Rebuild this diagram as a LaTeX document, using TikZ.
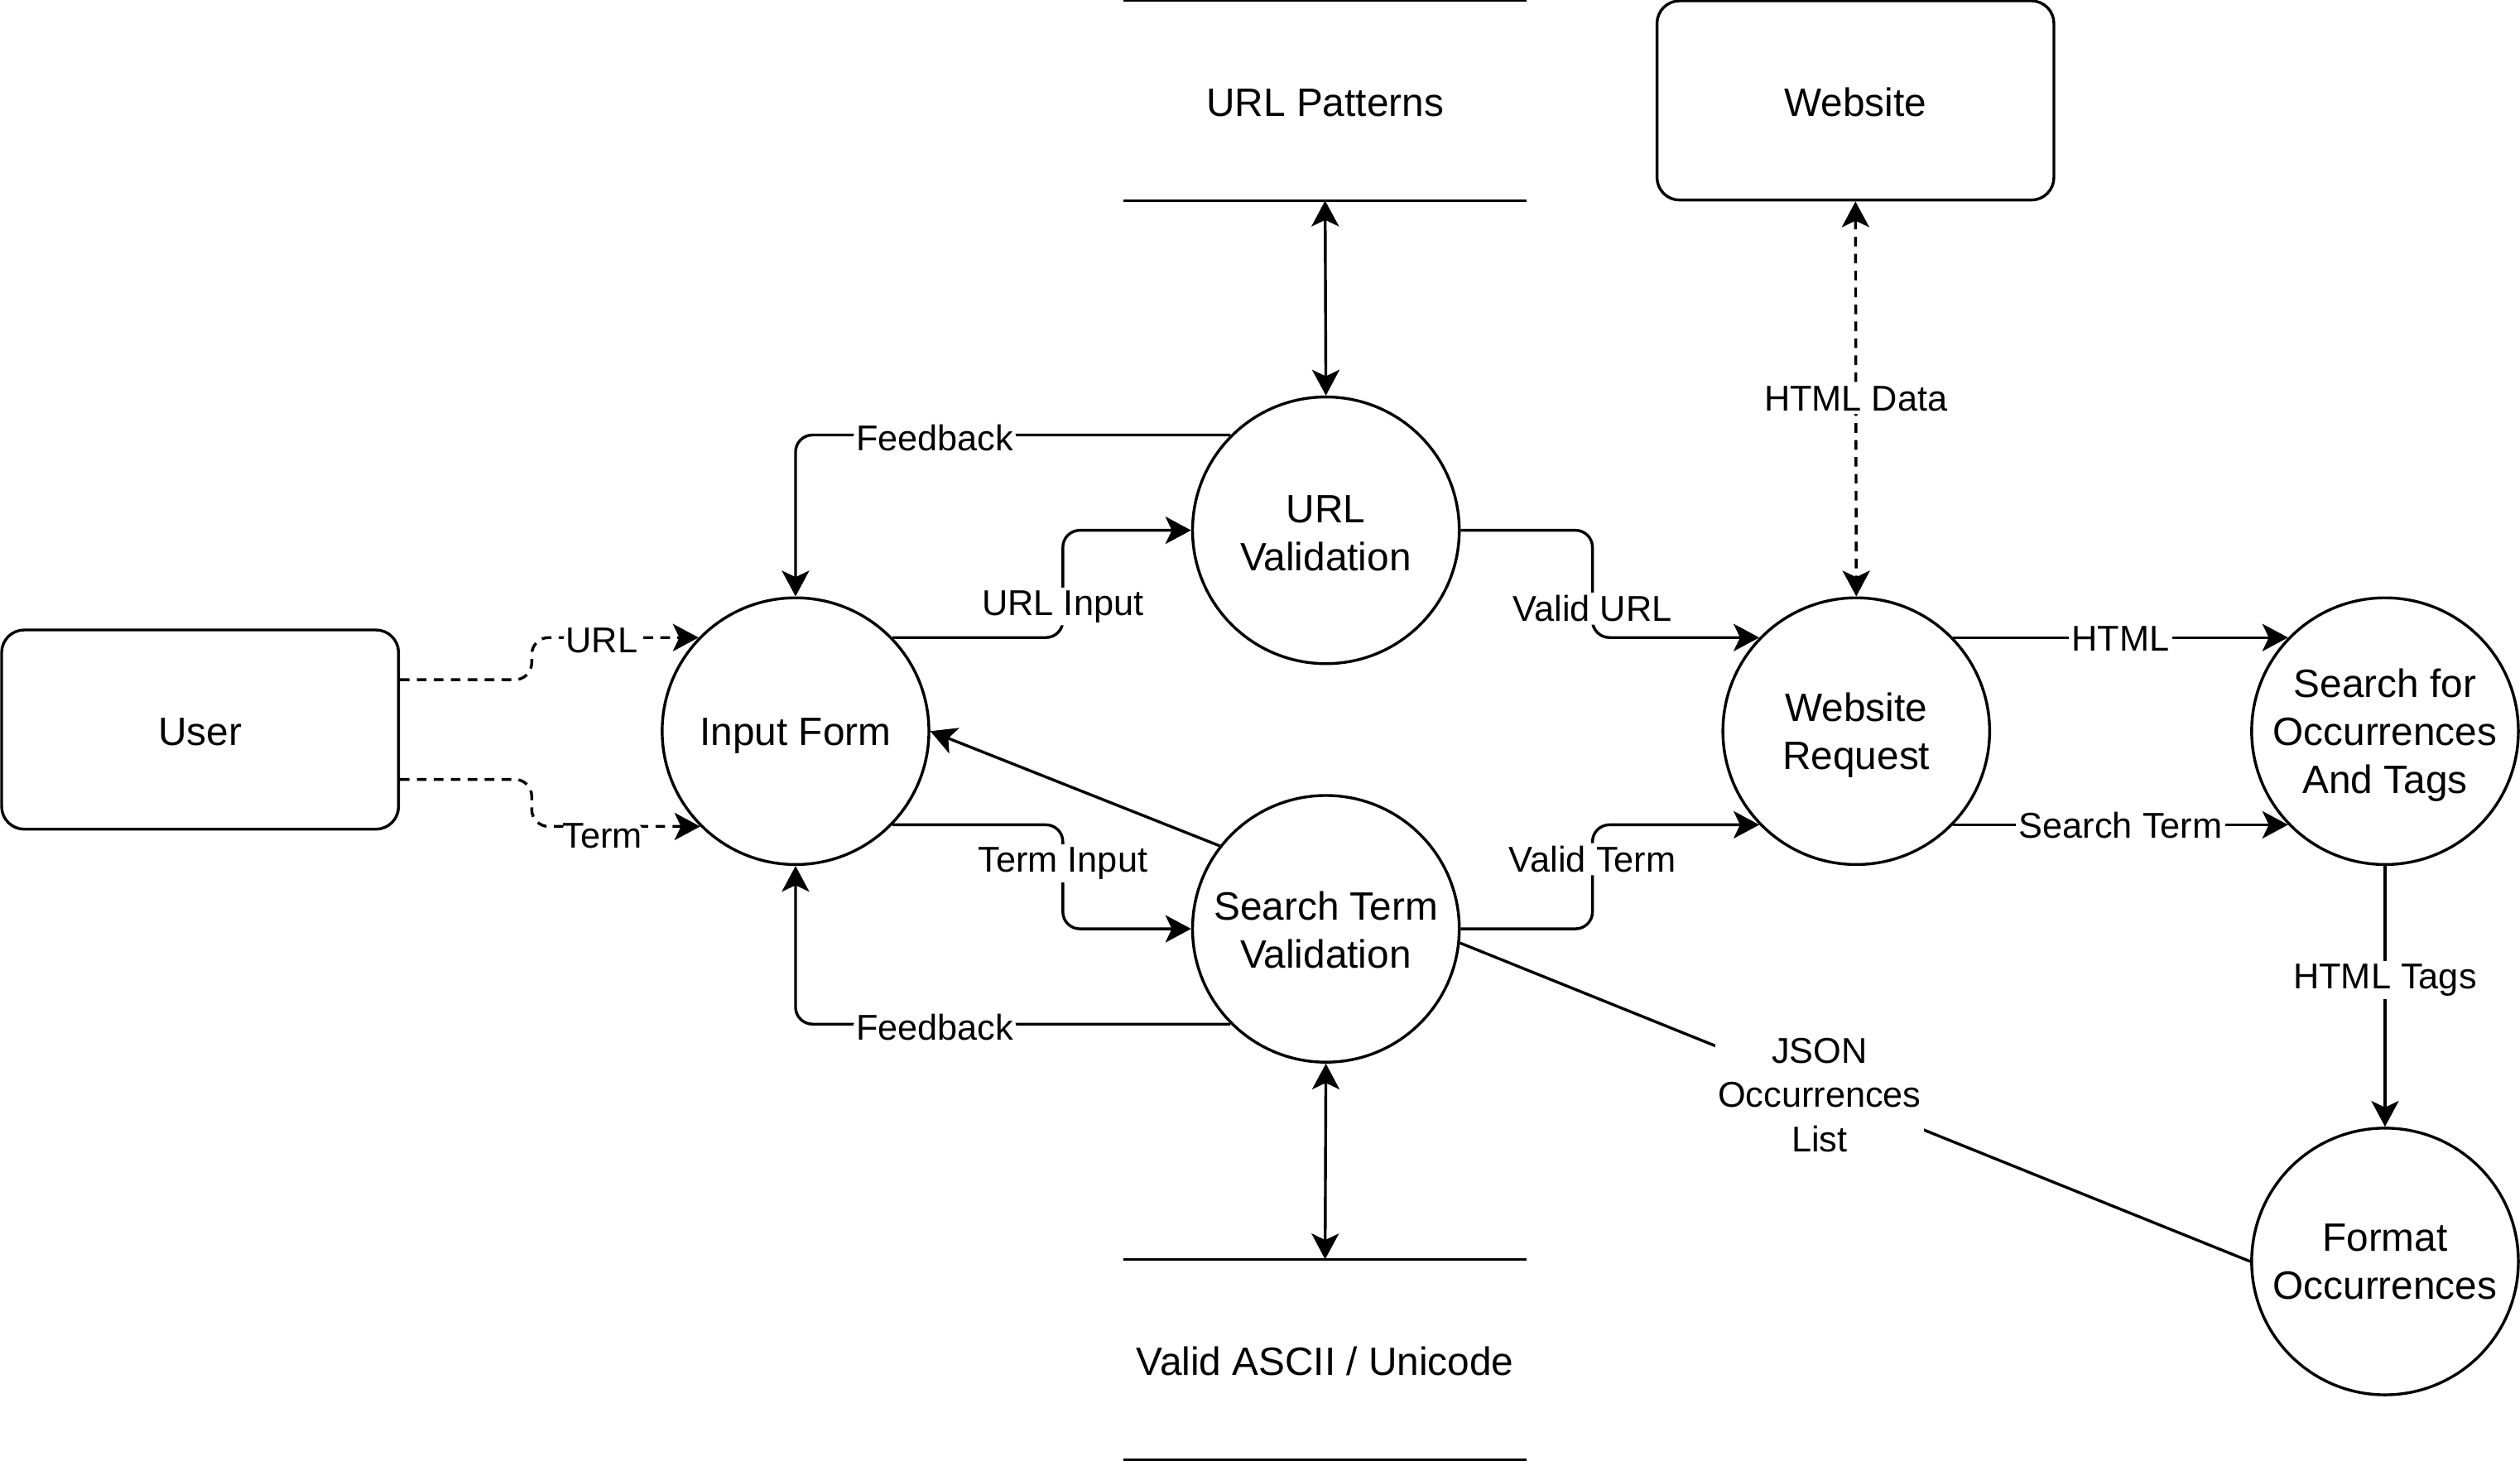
\documentclass[tikz,border=0pt]{standalone}
\usepackage{fontspec}
\setmainfont{Liberation Sans}
\usepackage{tikz}
\usetikzlibrary{arrows.meta}

\begin{document}
\begin{tikzpicture}[x=0.02cm, y=-0.02cm, line width=1pt,
    lowtext/.style={execute at begin node={\rule{0pt}{#1}}},
    proc/.style={draw, circle, minimum size=3.32cm, inner sep=0pt, align=center,
      font=\fontsize{14}{17}\selectfont, lowtext=13.2pt},
    ext/.style={draw, rounded corners=8pt, minimum width=4.94cm, minimum height=2.48cm,
      font=\fontsize{14}{17}\selectfont, lowtext=11.6pt},
    store/.style={minimum width=4.98cm, minimum height=2.46cm,
      font=\fontsize{14}{17}\selectfont, lowtext=11.6pt},
    flow/.style={-{Stealth[length=0.32cm, width=0.34cm, inset=0.08cm]}},
    both/.style={{Stealth[length=0.32cm, width=0.34cm, inset=0.08cm]}-{Stealth[length=0.32cm, width=0.34cm, inset=0.08cm]}},
    weblink/.style={dash pattern=on 3.4pt off 2.6pt},
    lbl/.style={fill=white, inner sep=1pt, align=center, yshift=-0.04cm,
      font=\fontsize{12.7}{15.6}\selectfont}]
  \useasboundingbox (0,0) rectangle (1568,909);

  % external entities
  \node[ext] (user) at (124.5,454) {User};
  \node[ext] (web) at (1154.5,62.5) {Website};

  % data stores
  \node[store] (pat) at (824.5,62.5) {URL Patterns};
  \node[store] (ascii) at (824.5,846) {Valid ASCII / Unicode};
  \draw (pat.north west) -- (pat.north east) (pat.south west) -- (pat.south east);
  \draw (ascii.north west) -- (ascii.north east) (ascii.south west) -- (ascii.south east);

  % processes
  \node[proc] (form) at (495,455) {Input Form};
  \node[proc, lowtext=29pt] (urlval) at (825,330) {URL\\Validation};
  \node[proc, lowtext=28pt] (termval) at (825,578) {Search Term\\Validation};
  \node[proc, lowtext=30.2pt] (webreq) at (1155,455) {Website\\Request};
  \node[proc, lowtext=47.2pt] (search) at (1484,455) {Search for\\Occurrences\\And Tags};
  \node[proc, lowtext=27pt] (format) at (1484,785) {Format\\Occurrences};

  % user input
  \draw[flow, weblink, rounded corners=6pt] (user.east) ++(0,-31) -- ++(82,0)
    |- node[lbl, pos=0.71]{URL} (form.136);
  \draw[flow, weblink, rounded corners=6pt] (user.east) ++(0,31) -- ++(82,0)
    |- node[lbl, pos=0.71, yshift=-0.08cm]{Term} (form.225);

  % validation
  \draw[flow, rounded corners=6pt] (form.44) -- ++(106,0)
    |- node[lbl, pos=0.16]{URL Input} (urlval.west);
  \draw[flow, rounded corners=6pt] (form.316) -- ++(106,0)
    |- node[lbl, pos=0.17]{Term Input} (termval.west);
  \draw[flow, rounded corners=6pt] (urlval.135) -| node[lbl, pos=0.34]{Feedback} (form.north);
  \draw[flow, rounded corners=6pt] (termval.225) -| node[lbl, pos=0.34]{Feedback} (form.south);
  \draw[flow] (termval.142) -- (form.east);
  \draw[both] (pat.south) -- (urlval.north);
  \draw[both] (termval.south) -- (ascii.north);

  % request and search
  \draw[flow, rounded corners=6pt] (urlval.east) -- ++(82,0)
    |- node[lbl, pos=0.35]{Valid URL} (webreq.136);
  \draw[flow, rounded corners=6pt] (termval.east) -- ++(82,0)
    |- node[lbl, pos=0.35]{Valid Term} (webreq.224);
  \draw[both, weblink] (web.south) -- node[lbl, yshift=0.04cm]{HTML Data} (webreq.north);
  \draw[flow] (webreq.44) -- node[lbl, yshift=0.03cm]{HTML} (search.136);
  \draw[flow] (webreq.316) -- node[lbl, yshift=0.03cm]{Search Term} (search.224);
  \draw[flow] (search.south) -- node[lbl, pos=0.42, yshift=-0.02cm]{HTML Tags} (format.north);
  \draw (format.west) -- node[lbl, pos=0.545, yshift=-0.05cm]{JSON\\Occurrences\\List} (termval.-6);
\end{tikzpicture}
\end{document}
